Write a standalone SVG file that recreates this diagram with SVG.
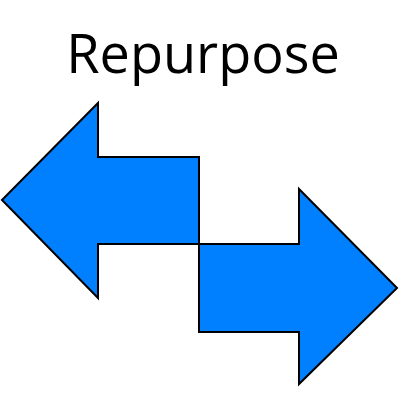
<svg xmlns="http://www.w3.org/2000/svg" width="400" height="400" viewBox="0 0 400 400">
<style>
.arrow{fill:#0080FF;stroke:#000;stroke-width:2;stroke-linejoin:miter}
.title{font-family:"Open Sans","Liberation Sans",sans-serif;font-size:54px;fill:#000}
</style>
<rect width="400" height="400" fill="#fff"/>
<g id="title"><text class="title" x="203" y="73" text-anchor="middle">Repurpose</text></g>
<g id="left-arrow"><polygon class="arrow" points="2,200 98,103 98,157 199,157 199,244 98,244 98,298"/></g>
<g id="right-arrow"><polygon class="arrow" points="397,288 299,189 299,244 199,244 199,332 299,332 299,384"/></g>
</svg>
